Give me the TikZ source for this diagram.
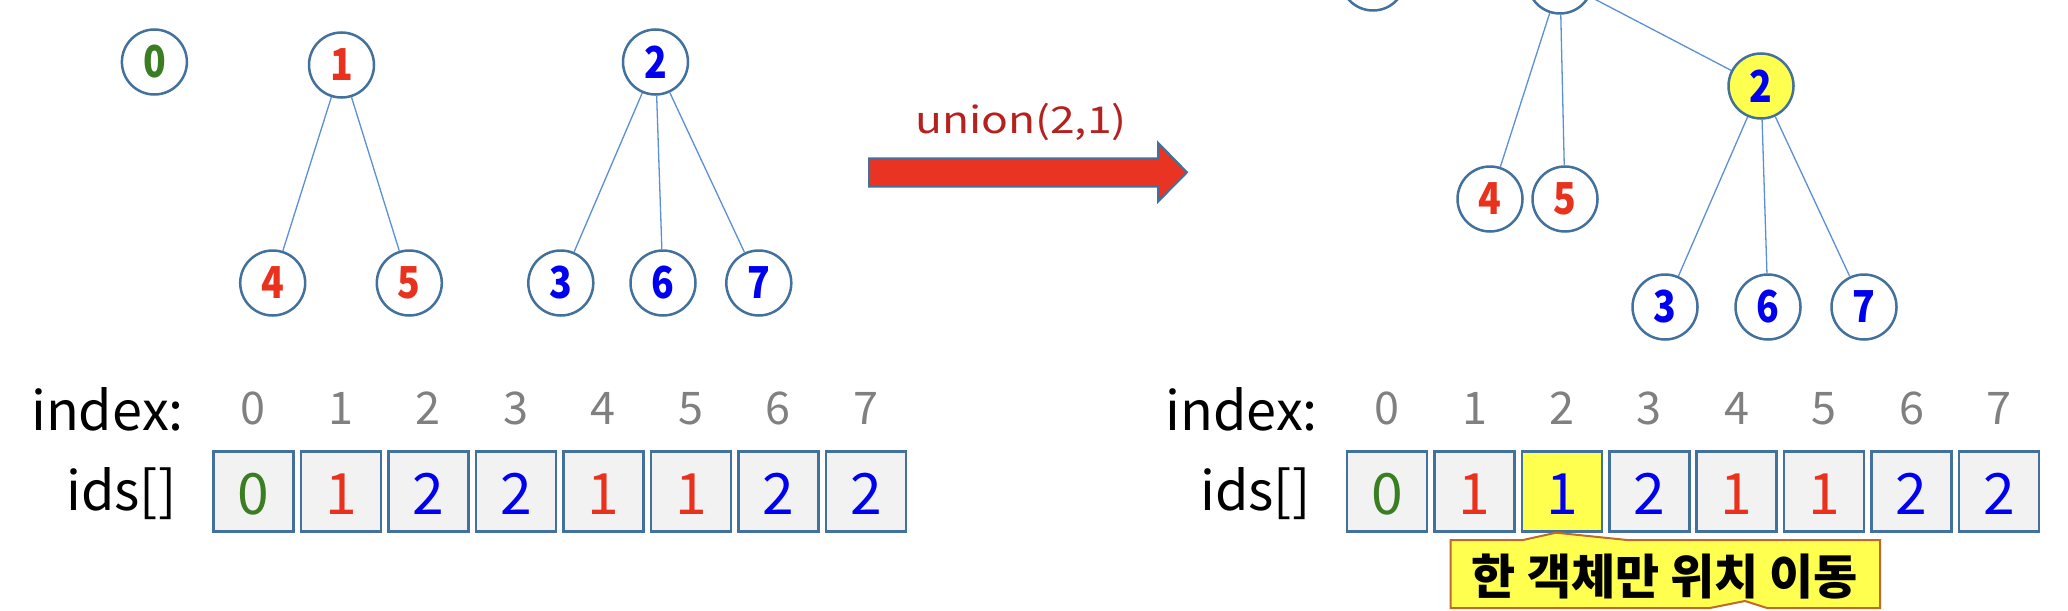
\documentclass[tikz,border=0pt]{standalone}
\usepackage{fontspec}
\usepackage{graphicx}
\setmainfont{Noto Sans CJK KR}
\definecolor{cborder}{HTML}{41719C}
\definecolor{cline}{HTML}{5B8FD6}
\definecolor{cgreen}{HTML}{3A7D22}
\definecolor{cred}{HTML}{E8321E}
\definecolor{cblue}{HTML}{0000F0}
\definecolor{cgray}{HTML}{808080}
\definecolor{cbox}{HTML}{F2F2F2}
\definecolor{cyel}{HTML}{FFFF50}
\definecolor{carrow}{HTML}{E93323}
\definecolor{cunion}{HTML}{B5211F}
\definecolor{ccall}{HTML}{BE6A2C}
\newcommand{\nar}[1]{\scalebox{0.85}[1]{#1}}
\tikzset{
 circ/.style={circle, draw=cborder, line width=2.5pt, minimum size=65pt, inner sep=0pt, fill=white, font=\fontsize{44}{44}\selectfont\bfseries},
 edge/.style={draw=cline, line width=1.3pt},
 cell/.style={rectangle, draw=cborder, line width=2.5pt, fill=cbox, minimum width=80pt, minimum height=80pt, inner sep=0pt},
 idxnum/.style={anchor=base, text=cgray, font=\fontsize{45}{45}\selectfont, inner sep=0pt},
 cellnum/.style={anchor=base, font=\fontsize{57}{57}\selectfont, inner sep=0pt},
 lbl/.style={anchor=base west, font=\fontsize{54}{54}\selectfont, inner sep=0pt},
}
\begin{document}
\begin{tikzpicture}[x=1pt,y=-1pt]
\clip (0,0) rectangle (2068,610);
\useasboundingbox (0,0) rectangle (2068,610);
% ---------- left tree ----------
\node[circ,text=cgreen] (L0) at (154.4,62) {\nar{0}};
\node[circ,text=cred] (L1) at (341.5,65) {\nar{1}};
\node[circ,text=cblue] (L2) at (655.5,62) {\nar{2}};
\node[circ,text=cred] (L4) at (272.7,283) {\nar{4}};
\node[circ,text=cred] (L5) at (409.3,283) {\nar{5}};
\node[circ,text=cblue] (L3) at (560.8,283) {\nar{3}};
\node[circ,text=cblue] (L6) at (663,283) {\nar{6}};
\node[circ,text=cblue] (L7) at (758.8,283) {\nar{7}};
\draw[edge] (L1) -- (L4);
\draw[edge] (L1) -- (L5);
\draw[edge] (L2) -- (L3);
\draw[edge] (L2) -- (L6);
\draw[edge] (L2) -- (L7);
% ---------- arrow ----------
\draw[fill=carrow, draw=cborder, line width=2pt] (869,158.3) -- (1158,158.3) -- (1158,142.7) -- (1187,172.3) -- (1158,201.7) -- (1158,186.7) -- (869,186.7) -- cycle;
\node[font=\fontsize{37}{37}\selectfont, text=cunion, anchor=base, inner sep=0pt] (union) at (1021,133.3) {\scalebox{1.2}[1]{union(2,1)}};
% ---------- right tree ----------
\node[circ] (R0) at (1373,-22) {};
\node[circ] (R1) at (1560,-19) {};
\node[circ,fill=cyel,text=cblue] (R2) at (1761,86) {\nar{2}};
\node[circ,text=cred] (R4) at (1490,199) {\nar{4}};
\node[circ,text=cred] (R5) at (1565,199) {\nar{5}};
\node[circ,text=cblue] (R3) at (1665,307) {\nar{3}};
\node[circ,text=cblue] (R6) at (1768,307) {\nar{6}};
\node[circ,text=cblue] (R7) at (1864,307) {\nar{7}};
\draw[edge] (R1) -- (R4);
\draw[edge] (R1) -- (R5);
\draw[edge] (R1) -- (R2);
\draw[edge] (R2) -- (R3);
\draw[edge] (R2) -- (R6);
\draw[edge] (R2) -- (R7);
% ---------- left array ----------
\node[lbl] (lindex) at (31,430) {index:};
\node[lbl] (lids) at (66,510) {ids[]};
\foreach \i/\v/\c in {0/0/cgreen,1/1/cred,2/2/cblue,3/2/cblue,4/1/cred,5/1/cred,6/2/cblue,7/2/cblue}{
  \node[cell] (lc\i) at ({253.4+87.5*\i},491.7) {};
  \node[cellnum,text=\c] (lv\i) at ({253.4+87.5*\i},514) {\v};
  \node[idxnum] (li\i) at ({253.4+87.5*\i},424.3) {\i};
}
% ---------- right array ----------
\node[lbl] (rindex) at (1165,430) {index:};
\node[lbl] (rids) at (1200,510) {ids[]};
\foreach \i/\v/\c/\f in {0/0/cgreen/cbox,1/1/cred/cbox,2/1/cblue/cyel,3/2/cblue/cbox,4/1/cred/cbox,5/1/cred/cbox,6/2/cblue/cbox,7/2/cblue/cbox}{
  \node[cell,fill=\f] (rc\i) at ({1387.1+87.4*\i},491.7) {};
  \node[cellnum,text=\c] (rv\i) at ({1387.1+87.4*\i},514) {\v};
  \node[idxnum] (ri\i) at ({1387.1+87.4*\i},424.3) {\i};
}
% ---------- callout ----------
\draw[fill=cyel, draw=ccall, line width=2pt] (1450.5,540) -- (1523,540) -- (1556,532.7) -- (1627,540) -- (1880,540) -- (1880,608) -- (1767,608) -- (1745,601) -- (1710,608) -- (1450.5,608) -- cycle;
\node[font=\fontsize{48}{48}\selectfont\bfseries, inner sep=0pt] (callout) at (1665,577) {한 객체만 위치 이동};
\end{tikzpicture}
\end{document}
